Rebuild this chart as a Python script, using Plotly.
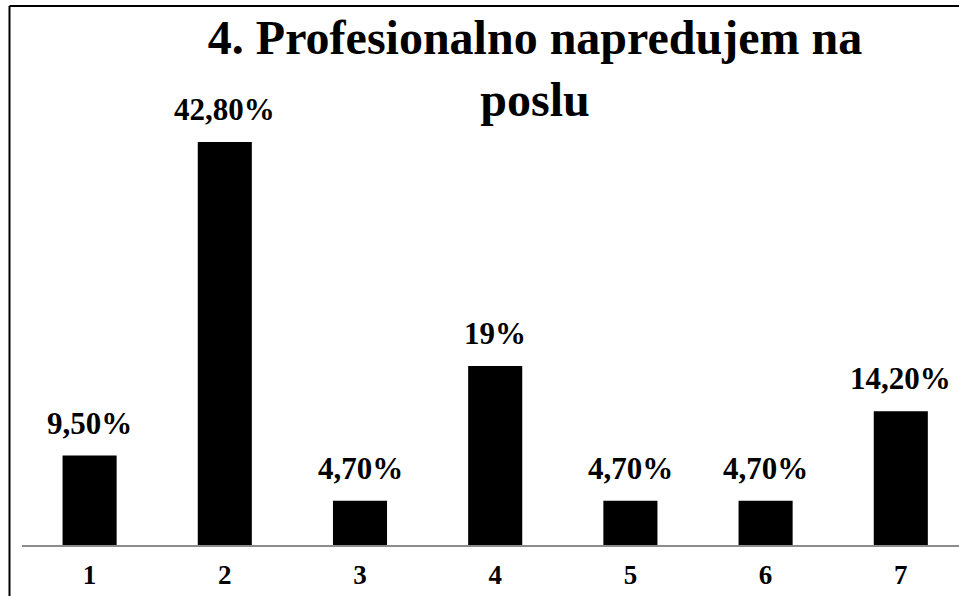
import plotly.graph_objects as go

categories = ["1", "2", "3", "4", "5", "6", "7"]
values = [9.5, 42.8, 4.7, 19.0, 4.7, 4.7, 14.2]
labels = ["9,50%", "42,80%", "4,70%", "19%", "4,70%", "4,70%", "14,20%"]
title_text = "4. Profesionalno napredujem na<br>poslu"

W, H = 959, 596
ML, MR, MT, MB = 22, 0, 100, 51
plot_w = W - ML - MR
plot_h = H - MT - MB
px_per_unit = 9.416
ymax = plot_h / px_per_unit

font_family = "Liberation Serif, Times New Roman, serif"

fig = go.Figure()
fig.add_trace(go.Bar(
    x=categories, y=values,
    marker=dict(color="#000000", line=dict(width=0)),
    width=0.4,
    hoverinfo="skip",
))

for i, (v, t) in enumerate(zip(values, labels)):
    fig.add_annotation(
        x=i, y=v, text=f"<b>{t}</b>", showarrow=False,
        yanchor="bottom", xanchor="center", yshift=13,
        font=dict(family=font_family, size=31, color="#000000"),
    )

# border (left + top visible)
bx = (9.5 - ML) / plot_w
by = (H - MB - 6) / plot_h
fig.add_shape(type="line", xref="paper", yref="paper",
              x0=bx, y0=-0.5, x1=bx, y1=by,
              line=dict(color="#000000", width=2))
fig.add_shape(type="line", xref="paper", yref="paper",
              x0=bx, y0=by, x1=1.2, y1=by,
              line=dict(color="#000000", width=2))

fig.update_layout(
    width=W, height=H,
    margin=dict(l=ML, r=MR, t=MT, b=MB, pad=0),
    paper_bgcolor="white", plot_bgcolor="white",
    showlegend=False,
    title=dict(text=f"<b>{title_text}</b>", x=535 / W, xanchor="center",
               y=1 - 54 / H, yanchor="middle", xref="container", yref="container",
               font=dict(family=font_family, size=48, color="#000000")),
    xaxis=dict(
        type="category", range=[-0.5, -0.5 + plot_w / 135.2],
        showline=True, linecolor="#8c8c8c", linewidth=2,
        showgrid=False, zeroline=False, ticks="",
        tickfont=dict(family=font_family, size=27, color="#000000"),
        ticklabelstandoff=5,
    ),
    yaxis=dict(range=[0, ymax], visible=False, showgrid=False, zeroline=False),
)
fig.update_xaxes(tickprefix="<b>", ticksuffix="</b>")

fig.write_html("out.html", config={"displayModeBar": False},
               post_script="document.body.style.margin='0px';document.body.style.overflow='hidden';")
